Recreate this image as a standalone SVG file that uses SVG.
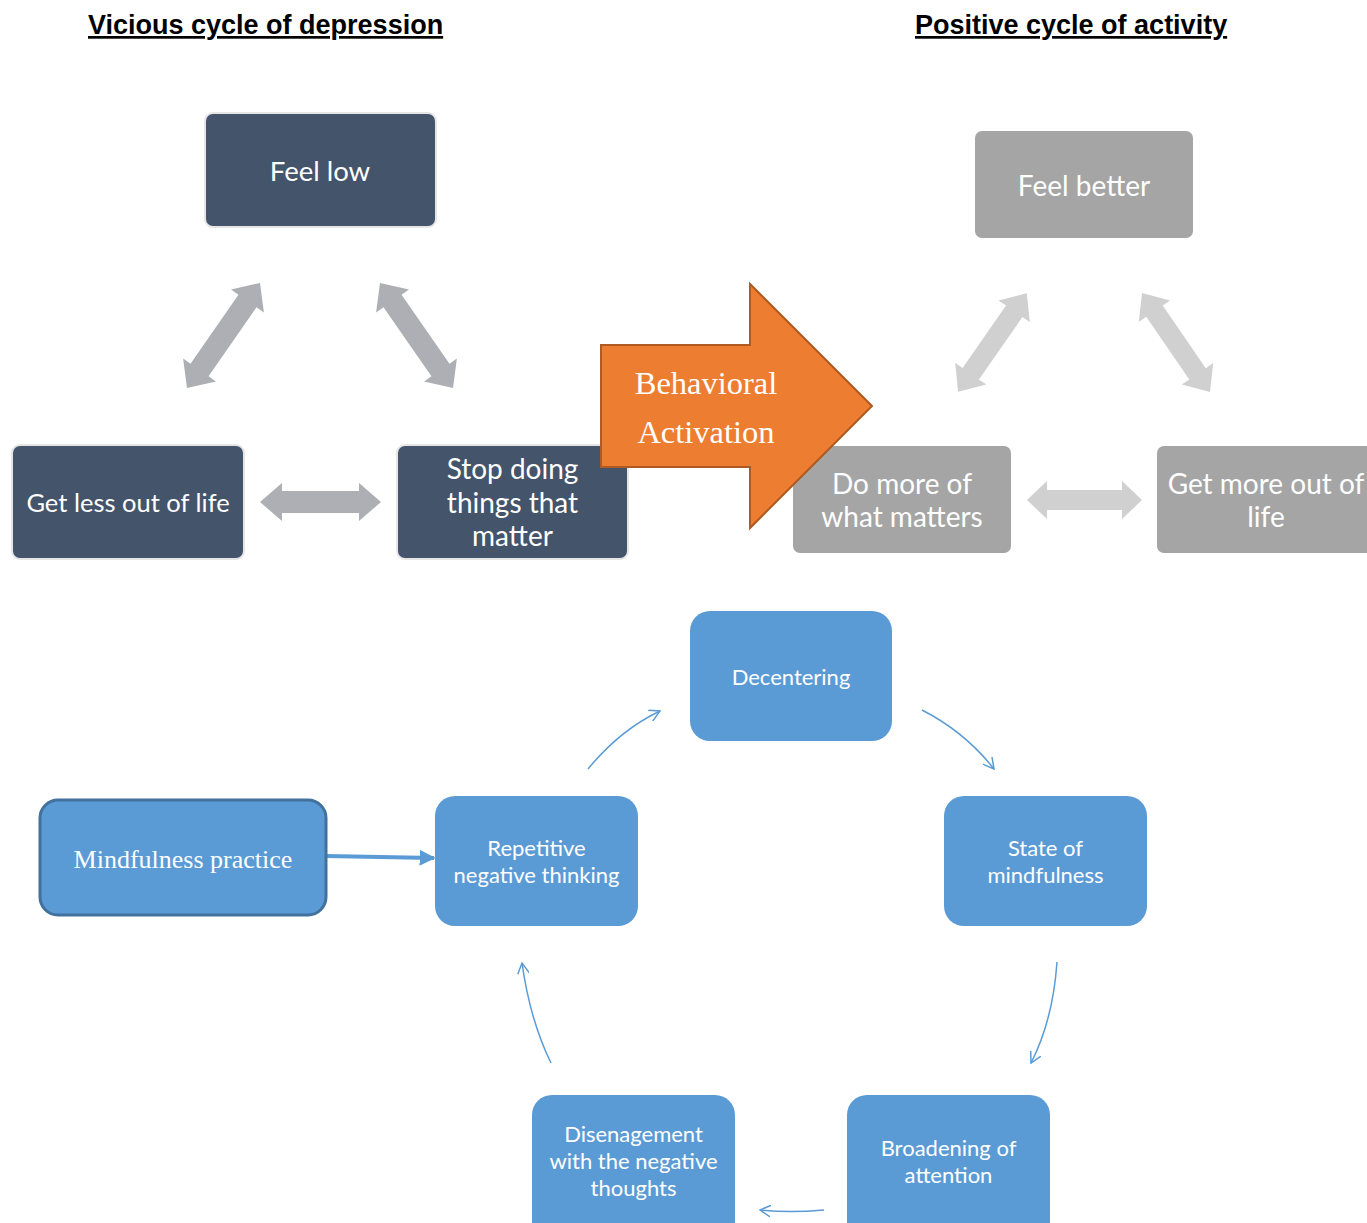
<svg xmlns="http://www.w3.org/2000/svg" width="1367" height="1223" viewBox="0 0 1367 1223">
<style>
.title{font-family:"Liberation Sans",Arial,sans-serif;font-weight:bold;font-size:27px;fill:#000;text-decoration:underline;}
.dark{fill:#44546A;stroke:#E6E6E6;stroke-width:2;}
.gray{fill:#A5A5A5;}
.blue{fill:#5B9BD5;}
.t{font-family:Lato,"Open Sans",sans-serif;fill:#fff;text-anchor:middle;dominant-baseline:central;}
.tt{font-family:"Liberation Serif","Times New Roman",serif;fill:#fff;text-anchor:middle;dominant-baseline:central;}
.ga{fill:#ADAFB4;}
.la{fill:#D0D0D0;}
.curve{fill:none;stroke:#5B9BD5;stroke-width:1.5;marker-end:url(#open);}
</style>
<defs>
<marker id="open" viewBox="0 0 12 12" refX="11" refY="6" markerWidth="12" markerHeight="12" markerUnits="userSpaceOnUse" orient="auto">
<path d="M0,0 L11,6 L0,12" fill="none" stroke="#5B9BD5" stroke-width="1.5"/>
</marker>
<marker id="solid" viewBox="0 0 10 10" refX="9" refY="5" markerWidth="4" markerHeight="4" orient="auto">
<path d="M0,0 L10,5 L0,10 z" fill="#5B9BD5"/>
</marker>
</defs>
<rect width="1367" height="1223" fill="#fff"/>
<text class="title" x="88" y="34">Vicious cycle of depression</text>
<text class="title" x="915" y="34">Positive cycle of activity</text>

<g id="connectors">
<polygon class="ga" transform="translate(223.5,335.5) rotate(-55.2)" points="-64,0 -42,-20 -42,-11 42,-11 42,-20 64,0 42,20 42,11 -42,11 -42,20"/>
<polygon class="ga" transform="translate(416.5,335.5) rotate(55.2)" points="-64,0 -42,-20 -42,-11 42,-11 42,-20 64,0 42,20 42,11 -42,11 -42,20"/>
<polygon class="ga" transform="translate(320.5,502)" points="-60.5,0 -38.5,-19 -38.5,-11 38.5,-11 38.5,-19 60.5,0 38.5,19 38.5,11 -38.5,11 -38.5,19"/>
<polygon class="la" transform="translate(992.5,342.5) rotate(-55.1)" points="-60,0 -38,-19 -38,-10 38,-10 38,-19 60,0 38,19 38,10 -38,10 -38,19"/>
<polygon class="la" transform="translate(1176,342.5) rotate(55.5)" points="-60,0 -38,-19 -38,-10 38,-10 38,-19 60,0 38,19 38,10 -38,10 -38,19"/>
<polygon class="la" transform="translate(1084.5,500)" points="-57.5,0 -37.5,-19 -37.5,-10 37.5,-10 37.5,-19 57.5,0 37.5,19 37.5,10 -37.5,10 -37.5,19"/>
<line x1="326" y1="856" x2="434" y2="858" stroke="#5B9BD5" stroke-width="4" marker-end="url(#solid)"/>
<path class="curve" d="M588,769 Q620,730 660,711"/>
<path class="curve" d="M922,710 Q965,732 994,769"/>
<path class="curve" d="M1057,962 Q1053,1020 1031,1063"/>
<path class="curve" d="M824,1210 Q790,1213 760,1210"/>
<path class="curve" d="M551,1063 Q530,1020 522,963"/>
</g>

<g id="feel-low"><rect class="dark" x="205" y="113" width="231" height="114" rx="8"/><text class="t" x="320" y="170" font-size="27.5">Feel low</text></g>
<g id="get-less"><rect class="dark" x="12" y="445" width="232" height="114" rx="8"/><text class="t" x="128" y="502" font-size="25.5">Get less out of life</text></g>
<g id="stop-doing"><rect class="dark" x="397" y="445" width="231" height="114" rx="8"/><text class="t" x="512.5" font-size="28"><tspan x="512.5" y="468">Stop doing</tspan><tspan x="512.5" y="502">things that</tspan><tspan x="512.5" y="535">matter</tspan></text></g>

<g id="feel-better"><rect class="gray" x="975" y="131" width="218" height="107" rx="7"/><text class="t" x="1084" y="185" font-size="28">Feel better</text></g>
<g id="do-more"><rect class="gray" x="793" y="446" width="218" height="107" rx="7"/><text class="t" x="902" font-size="28"><tspan x="902" y="483">Do more of</tspan><tspan x="902" y="516">what matters</tspan></text></g>
<g id="get-more"><rect class="gray" x="1157" y="446" width="230" height="107" rx="7"/><text class="t" x="1266" font-size="28"><tspan x="1266" y="483">Get more out of</tspan><tspan x="1266" y="516">life</tspan></text></g>

<g id="behavioral-activation"><polygon points="601,345 750,345 750,284 872,406 750,528 750,467 601,467" fill="#ED7D31" stroke="#AE5A21" stroke-width="2"/><text class="tt" x="706" font-size="32.5"><tspan x="706" y="383">Behavioral</tspan><tspan x="706" y="432">Activation</tspan></text></g>

<g id="decentering"><rect class="blue" x="690" y="611" width="202" height="130" rx="20"/><text class="t" x="791" y="676" font-size="22">Decentering</text></g>
<g id="state-of-mindfulness"><rect class="blue" x="944" y="796" width="203" height="130" rx="20"/><text class="t" x="1045.5" font-size="22"><tspan x="1045.5" y="847">State of</tspan><tspan x="1045.5" y="874">mindfulness</tspan></text></g>
<g id="broadening"><rect class="blue" x="847" y="1095" width="203" height="150" rx="20"/><text class="t" x="948.5" font-size="22"><tspan x="948.5" y="1147">Broadening of</tspan><tspan x="948.5" y="1174">attention</tspan></text></g>
<g id="disengagement"><rect class="blue" x="532" y="1095" width="203" height="150" rx="20"/><text class="t" x="633.5" font-size="22"><tspan x="633.5" y="1133">Disenagement</tspan><tspan x="633.5" y="1160">with the negative</tspan><tspan x="633.5" y="1187">thoughts</tspan></text></g>
<g id="repetitive"><rect class="blue" x="435" y="796" width="203" height="130" rx="20"/><text class="t" x="536.5" font-size="22"><tspan x="536.5" y="847">Repetitive</tspan><tspan x="536.5" y="874">negative thinking</tspan></text></g>
<g id="mindfulness-practice"><rect x="40" y="800" width="286" height="115" rx="18" fill="#5B9BD5" stroke="#41719C" stroke-width="3"/><text class="tt" x="183" y="859" font-size="26">Mindfulness practice</text></g>
</svg>
